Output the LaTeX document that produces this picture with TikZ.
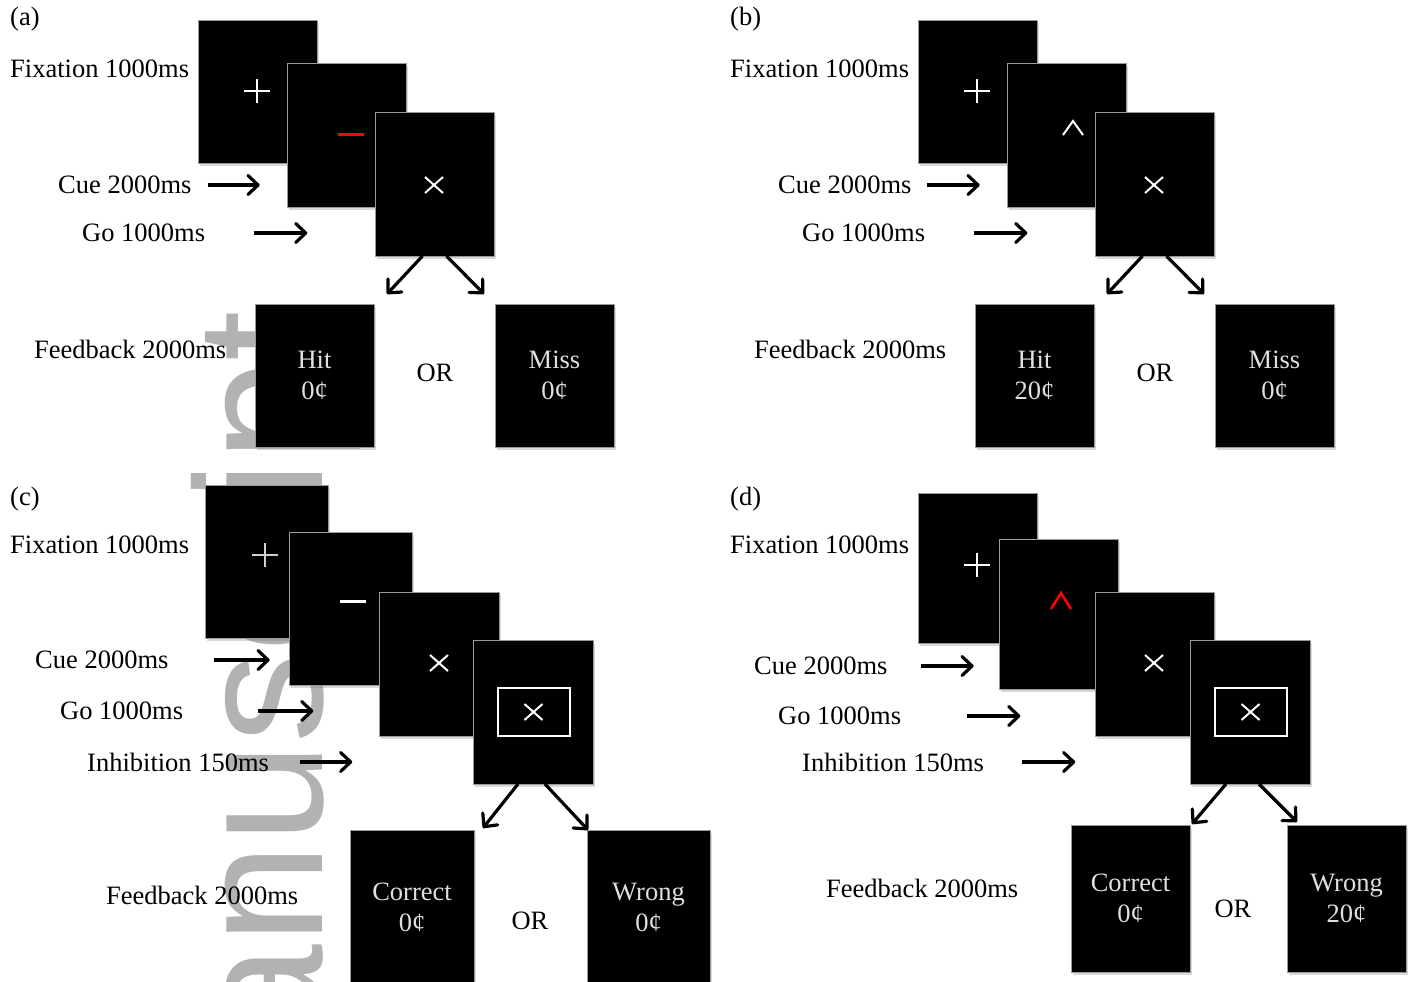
\documentclass[tikz,border=0pt]{standalone}
\usepackage{fontspec}
\setmainfont{Liberation Serif}
\newfontfamily\wmfont{Liberation Sans}
\usepackage{tikz}
\usetikzlibrary{arrows.meta,shadows}
\newcommand{\lblfont}{\fontsize{26.5}{31}\selectfont}
\tikzset{
  screen/.style  = {fill=black,draw=black!40,line width=0.8pt,inner sep=0pt,outer sep=0pt,
                    minimum width=119pt,minimum height=144pt,text=white!88!black,
                    align=center,font=\lblfont,
                    drop shadow={shadow xshift=2pt,shadow yshift=-3pt,opacity=0.3}},
  lbl/.style     = {anchor=west,inner sep=0pt,font=\lblfont},
  flowarr/.style = {-{Straight Barb[length=10pt,width=19pt,round]},line width=3.2pt},
  symline/.style = {white,line width=2pt}
}
% stimulus marks, drawn at pixel coordinates
\newcommand{\plusmark}[3]{%
  \draw[symline,#3] (#1-13,#2) -- (#1+13,#2) (#1,#2-12) -- (#1,#2+12);
}
\newcommand{\xmark}[2]{%
  \draw[symline] (#1-9,#2-8) -- (#1+9,#2+8) (#1-9,#2+8) -- (#1+9,#2-8);
}
\newcommand{\dashmark}[3]{%
  \draw[symline,line width=3pt,#3] (#1-13,#2) -- (#1+13,#2);
}
\newcommand{\caretmark}[4]{%
  \draw[symline,#4] (#1-10,#2+#3) -- (#1,#2-#3) -- (#1+10,#2+#3);
}
\newcommand{\framex}[2]{%
  \draw[white,line width=2pt] (#1-36,#2-24) rectangle (#1+36,#2+24);
  \xmark{#1}{#2}
}
% arrow after a timing label
\newcommand{\stimarr}[3]{%
  \draw[flowarr] ([xshift=#2pt]#1.east) -- ([xshift=#3pt]#1.east);
}

\begin{document}
\begin{tikzpicture}[x=1pt,y=-1pt]
  \useasboundingbox (0,0) rectangle (1417,982);
  % watermark behind the figure
  \node[rotate=90,anchor=base west,inner sep=0pt,text=black!30,
        font=\wmfont\fontsize{181}{181}\selectfont] (wmark) at (322,1196) {Manuscript};

  % (a)
  \node[lbl] (alab) at (10,19) {(a)};
  \node[lbl] (afix) at (10,69) {Fixation 1000ms};
  \node[screen,minimum height=143pt] (a1) at (257.5,91.5) {};
  \plusmark{257}{91}{white}
  \node[screen] (a2) at (346.5,135) {};
  \dashmark{351}{134}{red}
  \node[screen] (a3) at (434.5,184) {};
  \xmark{434}{185}
  \node[lbl] (acue) at (58,185) {Cue 2000ms};
  \node[lbl] (ago) at (82,233) {Go 1000ms};
  \stimarr{acue}{16}{68}
  \stimarr{ago}{49}{102}
  \node[lbl] (afb) at (34,349) {Feedback 2000ms};
  \node[screen,minimum height=143pt] (ahit) at (314.5,375.5) {Hit\\0¢};
  \node[lbl,anchor=center] (aor) at (435,373) {OR};
  \node[screen,minimum height=143pt] (amiss) at (554.5,375.5) {Miss\\0¢};
  \draw[flowarr] ([xshift=-12pt]a3.south) -- ([shift={(13,-10)}]ahit.north east);
  \draw[flowarr] ([xshift=12pt]a3.south) -- ([shift={(-11,-10)}]amiss.north west);

  % (b)
  \node[lbl] (blab) at (730,19) {(b)};
  \node[lbl] (bfix) at (730,69) {Fixation 1000ms};
  \node[screen,minimum height=143pt] (b1) at (977.5,91.5) {};
  \plusmark{977}{91}{white}
  \node[screen] (b2) at (1066.5,135) {};
  \caretmark{1073}{128}{7}{white}
  \node[screen] (b3) at (1154.5,184) {};
  \xmark{1154}{185}
  \node[lbl] (bcue) at (778,185) {Cue 2000ms};
  \node[lbl] (bgo) at (802,233) {Go 1000ms};
  \stimarr{bcue}{15}{68}
  \stimarr{bgo}{49}{102}
  \node[lbl] (bfb) at (754,349) {Feedback 2000ms};
  \node[screen,minimum height=143pt] (bhit) at (1034.5,375.5) {Hit\\20¢};
  \node[lbl,anchor=center] (bor) at (1155,373) {OR};
  \node[screen,minimum height=143pt] (bmiss) at (1274.5,375.5) {Miss\\0¢};
  \draw[flowarr] ([xshift=-12pt]b3.south) -- ([shift={(13,-10)}]bhit.north east);
  \draw[flowarr] ([xshift=12pt]b3.south) -- ([shift={(-11,-10)}]bmiss.north west);

  % (c)
  \node[lbl] (clab) at (10,499) {(c)};
  \node[lbl] (cfix) at (10,545) {Fixation 1000ms};
  \node[screen,minimum width=123pt,minimum height=153pt] (c1) at (266.5,561.5) {};
  \plusmark{265}{555}{black!18}
  \node[screen,minimum width=123pt,minimum height=153pt] (c2) at (350.5,608.5) {};
  \dashmark{353}{601}{white}
  \node[screen,minimum width=120pt] (c3) at (439,664) {};
  \xmark{439}{663}
  \node[screen,minimum width=120pt] (c4) at (533,712) {};
  \framex{533.5}{712}
  \node[lbl] (ccue) at (35,660) {Cue 2000ms};
  \node[lbl] (cgo) at (60,711) {Go 1000ms};
  \node[lbl] (cinh) at (87,762) {Inhibition 150ms};
  \stimarr{ccue}{45}{101}
  \stimarr{cgo}{75}{130}
  \stimarr{cinh}{31}{83}
  \node[lbl] (cfb) at (106,895) {Feedback 2000ms};
  \node[screen,minimum width=124pt,minimum height=155pt] (ccor) at (412,907.5) {Correct\\0¢};
  \node[lbl,anchor=center] (cor) at (530,921) {OR};
  \node[screen,minimum width=123pt,minimum height=155pt] (cwrong) at (648.5,907.5) {Wrong\\0¢};
  \draw[flowarr] ([xshift=-15pt]c4.south) -- ([shift={(9,-2)}]ccor.north east);
  \draw[flowarr] ([xshift=12pt]c4.south) -- ([shift={(1,0)}]cwrong.north west);

  % (d)
  \node[lbl] (dlab) at (730,499) {(d)};
  \node[lbl] (dfix) at (730,545) {Fixation 1000ms};
  \node[screen,minimum height=150pt] (d1) at (977.5,568) {};
  \plusmark{977}{565}{white}
  \node[screen,minimum height=150pt] (d2) at (1058.5,614) {};
  \caretmark{1061}{601}{8}{red,line width=2.6pt}
  \node[screen] (d3) at (1154.5,664) {};
  \xmark{1154}{663}
  \node[screen,minimum width=120pt] (d4) at (1250,712) {};
  \framex{1250.5}{712}
  \node[lbl] (dcue) at (754,666) {Cue 2000ms};
  \node[lbl] (dgo) at (778,716) {Go 1000ms};
  \node[lbl] (dinh) at (802,762) {Inhibition 150ms};
  \stimarr{dcue}{33}{86}
  \stimarr{dgo}{66}{119}
  \stimarr{dinh}{38}{91}
  \node[lbl] (dfb) at (826,888) {Feedback 2000ms};
  \node[screen,minimum height=147pt] (dcor) at (1130.5,898.5) {Correct\\0¢};
  \node[lbl,anchor=center] (dor) at (1233,909) {OR};
  \node[screen,minimum height=147pt] (dwrong) at (1346.5,898.5) {Wrong\\20¢};
  \draw[flowarr] ([xshift=-24pt]d4.south) -- ([shift={(2,-1)}]dcor.north east);
  \draw[flowarr] ([xshift=9pt]d4.south) -- ([shift={(10,-3)}]dwrong.north west);
\end{tikzpicture}
\end{document}
